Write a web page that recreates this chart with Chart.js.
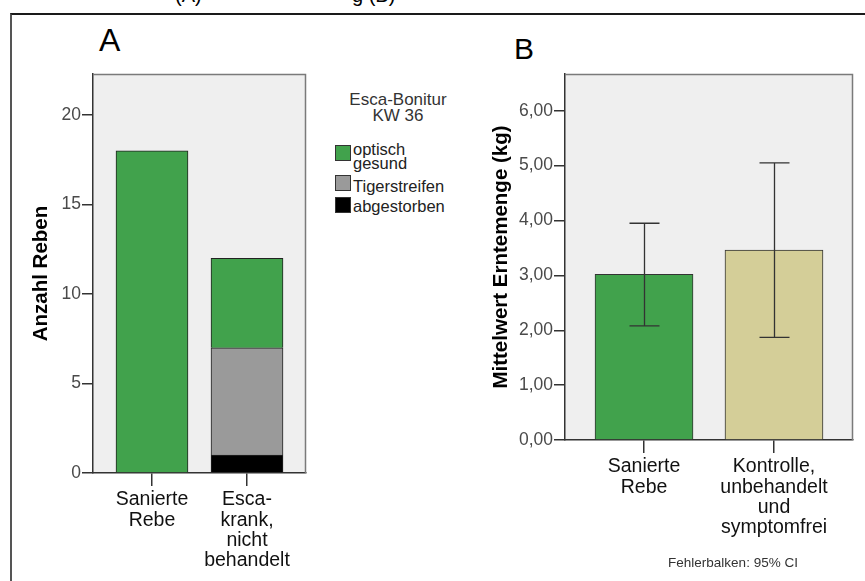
<!DOCTYPE html>
<html><head><meta charset="utf-8">
<script src="https://cdn.jsdelivr.net/npm/chart.js@4.4.1/dist/chart.umd.min.js"></script>
<style>
html,body{margin:0;padding:0;background:#fff;width:865px;height:581px;overflow:hidden;position:relative;font-family:"Liberation Sans",Arial,sans-serif;}
.abs{position:absolute;white-space:nowrap;}
#frame{position:absolute;left:10px;top:13px;width:1000px;height:1000px;border-left:2px solid #555;border-top:2px solid #1a1a1a;}
canvas{position:absolute;}
.sw{position:absolute;width:14px;height:14px;border:1px solid #333;}
.lg{position:absolute;font-size:16.5px;color:#222;line-height:14px;}
</style></head>
<body>
<div class="abs" style="left:175px;top:-16px;font-size:20px;color:#000;">(A)</div>
<div class="abs" style="left:352px;top:-16px;font-size:20px;color:#000;">g (B)</div>
<div id="frame"></div>
<div class="abs" style="left:99px;top:22px;font-size:32px;color:#000;">A</div>
<div class="abs" style="left:514px;top:32px;font-size:30px;color:#000;">B</div>
<canvas id="cA" width="291" height="521" style="left:29px;top:60px;width:291px;height:521px;"></canvas>
<canvas id="cB" width="376" height="521" style="left:489px;top:60px;width:376px;height:521px;"></canvas>
<div class="abs" style="left:398px;top:92px;transform:translateX(-50%);font-size:17px;color:#333;text-align:center;line-height:16px;">Esca-Bonitur<br>KW 36</div>
<div id="legend"></div>
<div class="abs" style="left:733px;top:555px;transform:translateX(-50%);font-size:13.5px;color:#333;">Fehlerbalken: 95% CI</div>
<script>
// ---- Panel A data ----
const categoriesA = [["Sanierte","Rebe"],["Esca-","krank,","nicht","behandelt"]];
const seriesNamesA = ["optisch gesund","Tigerstreifen","abgestorben"];
const gesundA = [18, 5];
const tigerA = [0, 6];
const abgestorbenA = [0, 1];
const yTicksA = [0, 5, 10, 15, 20];
// ---- Panel B data ----
const categoriesB = [["Sanierte","Rebe"],["Kontrolle,","unbehandelt","und","symptomfrei"]];
const meanB = [3.02, 3.46];
const ciLowB = [2.08, 1.87];
const ciHighB = [3.95, 5.05];
const yTicksB = [0, 1, 2, 3, 4, 5, 6];

const GREEN = '#41a24c', GRAY = '#9a9a9a', BLACK = '#000000', TAN = '#d4ce98';

// legend (HTML)
const leg = document.getElementById('legend');
const legItems = [
  {c:GREEN, lines:["optisch","gesund"], top:145, tt:142},
  {c:GRAY, lines:["Tigerstreifen"], top:175, tt:179},
  {c:BLACK, lines:["abgestorben"], top:197, tt:199}
];
legItems.forEach(it=>{
  const s=document.createElement('div'); s.className='sw';
  s.style.left='335px'; s.style.top=it.top+'px'; s.style.background=it.c; leg.appendChild(s);
  const t=document.createElement('div'); t.className='lg';
  t.style.left='353px'; t.style.top=it.tt+'px'; t.innerHTML=it.lines.join('<br>'); leg.appendChild(t);
});

const FONT = "'Liberation Sans', Arial, sans-serif";

const plotBg = {
  id:'plotBg',
  beforeDraw(chart){
    const {ctx, chartArea:a} = chart;
    ctx.save(); ctx.fillStyle='#efefef'; ctx.fillRect(a.left,a.top,a.right-a.left,a.bottom-a.top); ctx.restore();
  },
  afterDraw(chart){
    const {ctx, chartArea:a} = chart;
    ctx.save(); ctx.strokeStyle='#7a7a7a'; ctx.lineWidth=1.5;
    ctx.beginPath(); ctx.moveTo(a.left,a.top+0.5); ctx.lineTo(a.right-0.5,a.top+0.5); ctx.lineTo(a.right-0.5,a.bottom); ctx.stroke();
    ctx.restore();
  }
};

function toPts(arr){ return arr.map((v,i)=> v ? {x:i, y:v} : null).filter(Boolean); }

function xScale(min,max,labels,height,tickLen){
  return {
    type:'linear', min:min, max:max, stacked:true, offset:false,
    afterFit(s){ s.height = height; },
    afterBuildTicks(s){ s.ticks = labels.map((_,i)=>({value:i})); },
    ticks:{ stepSize:1, includeBounds:false, autoSkip:false, maxRotation:0, padding:4, color:'#111',
      font:{family:FONT,size:19.5, lineHeight:1.03}, callback:(v)=> labels[v] },
    grid:{ offset:false, drawOnChartArea:false, drawTicks:true, tickLength:tickLen, color:'#333', lineWidth:1.5 },
    border:{ display:true, color:'#333', width:1.5 }
  };
}

// ---- Chart A ----
new Chart(document.getElementById('cA'), {
  type:'bar',
  data:{ datasets:[
    {label:seriesNamesA[2], data:toPts(abgestorbenA), backgroundColor:BLACK, borderColor:'#222', borderWidth:1, barThickness:72},
    {label:seriesNamesA[1], data:toPts(tigerA), backgroundColor:GRAY, borderColor:'#222', borderWidth:1, barThickness:72},
    {label:seriesNamesA[0], data:toPts(gesundA), backgroundColor:GREEN, borderColor:'#222', borderWidth:1, barThickness:72}
  ]},
  options:{
    responsive:false, animation:false, devicePixelRatio:1,
    layout:{ padding:{top:14,right:14,left:0,bottom:0} },
    plugins:{ legend:{display:false}, tooltip:{enabled:false} },
    scales:{
      x: xScale(-0.621, 1.621, categoriesA, 108, 13),
      y:{ type:'linear', min:0, max:22.3, stacked:true,
        afterFit(s){ s.width = 64; },
        afterBuildTicks(s){ s.ticks = yTicksA.map(v=>({value:v})); },
        ticks:{ color:'#4a4a4a', padding:1, font:{family:FONT,size:17.5} },
        grid:{ drawOnChartArea:false, drawTicks:true, tickLength:11, color:'#333', lineWidth:1.5 },
        border:{ display:true, color:'#333', width:1.5 },
        title:{ display:true, text:'Anzahl Reben', color:'#000', padding:0, font:{family:FONT,size:20.5,weight:'bold'} }
      }
    }
  },
  plugins:[plotBg]
});

// ---- Chart B ----
const errorBars = {
  id:'errorBars',
  afterDatasetsDraw(chart){
    const {ctx, scales:{x,y}} = chart;
    ctx.save(); ctx.strokeStyle='#333'; ctx.lineWidth=1.3;
    meanB.forEach((m,i)=>{
      const px = Math.round(x.getPixelForValue(i))+0.5;
      const yl = y.getPixelForValue(ciLowB[i]), yh = y.getPixelForValue(ciHighB[i]);
      const hw = 15;
      ctx.beginPath();
      ctx.moveTo(px,yl); ctx.lineTo(px,yh);
      ctx.moveTo(px-hw,yl); ctx.lineTo(px+hw,yl);
      ctx.moveTo(px-hw,yh); ctx.lineTo(px+hw,yh);
      ctx.stroke();
    });
    ctx.restore();
  }
};

new Chart(document.getElementById('cB'), {
  type:'bar',
  data:{ datasets:[
    {label:'Mittelwert', data:meanB.map((v,i)=>({x:i,y:v})), backgroundColor:[GREEN,TAN], borderColor:'#333', borderWidth:1, barThickness:98}
  ]},
  options:{
    responsive:false, animation:false, devicePixelRatio:1,
    layout:{ padding:{top:14,right:12,left:0,bottom:0} },
    plugins:{ legend:{display:false}, tooltip:{enabled:false} },
    scales:{
      x: xScale(-0.608, 1.608, categoriesB, 141, 13),
      y:{ type:'linear', min:0, max:6.67,
        afterFit(s){ s.width = 76; },
        afterBuildTicks(s){ s.ticks = yTicksB.map(v=>({value:v})); },
        ticks:{ color:'#4a4a4a', padding:1, font:{family:FONT,size:17.5}, callback:(v)=> v.toFixed(2).replace('.',',') },
        grid:{ drawOnChartArea:false, drawTicks:true, tickLength:11, color:'#333', lineWidth:1.5 },
        border:{ display:true, color:'#333', width:1.5 },
        title:{ display:true, text:'Mittelwert Erntemenge (kg)', color:'#000', padding:0, font:{family:FONT,size:20.5,weight:'bold'} }
      }
    }
  },
  plugins:[plotBg, errorBars]
});
</script>
</body></html>
